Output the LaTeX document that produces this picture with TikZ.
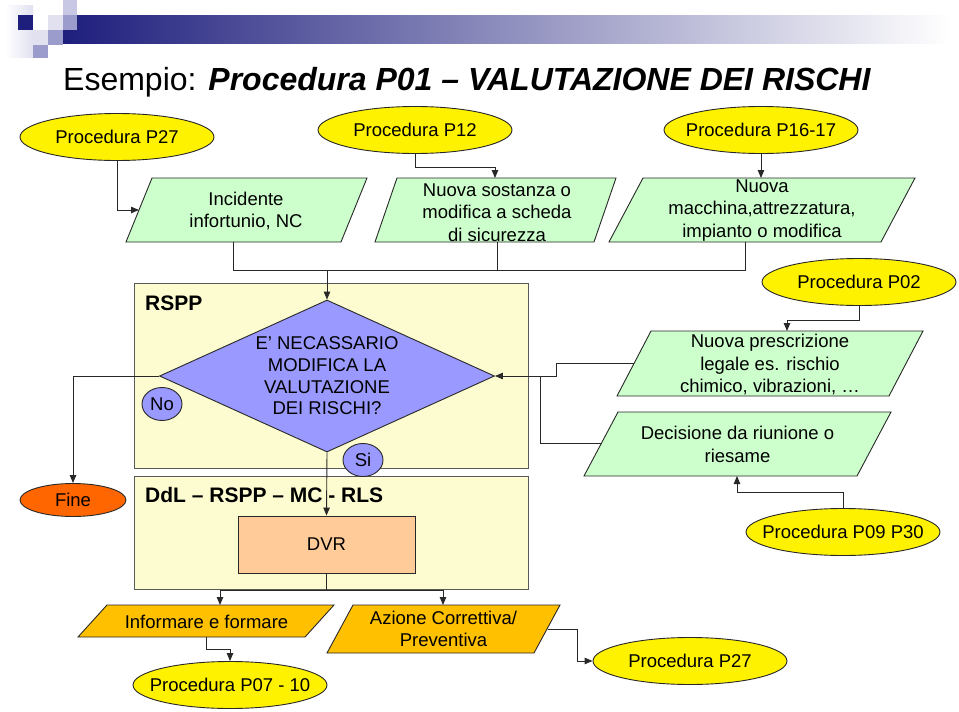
\documentclass[tikz,border=0pt]{standalone}
\usepackage{fontspec}
\setmainfont{Liberation Sans}
\usetikzlibrary{shapes.geometric,arrows.meta}
\definecolor{hdnavy}{RGB}{30,30,125}
\definecolor{sqa}{RGB}{225,225,240}
\definecolor{sqb}{RGB}{200,200,228}
\definecolor{sqc}{RGB}{156,156,204}
\definecolor{ygreen}{RGB}{204,255,204}
\definecolor{lanecol}{RGB}{253,252,208}
\definecolor{diacol}{RGB}{153,153,255}
\definecolor{fineor}{RGB}{255,102,0}
\definecolor{dvrc}{RGB}{255,204,153}
\definecolor{goldc}{RGB}{255,192,0}
\definecolor{edgec}{RGB}{40,40,40}
\newcommand{\pgm}[6]{\draw[#1] (#2,#4) -- (#3,#4) -- ({#3-#5},#6) -- ({#2-#5},#6) -- cycle;}
\newcommand{\zw}[1]{\makebox[0pt][c]{#1}}
\begin{document}
\begin{tikzpicture}[x=1pt,y=-1pt,
 txt/.style={font=\fontsize{18.5}{22.5}\selectfont, text=black, align=center, inner sep=0pt},
 ln/.style={draw=edgec, line width=0.9pt},
 arr/.style={ln, -{Triangle[length=8pt,width=6.5pt]}},
 yell/.style={txt, ellipse, draw=edgec, line width=0.9pt, fill=yellow, minimum width=194pt, minimum height=47pt},
 gpar/.style={draw=edgec, line width=0.9pt, fill=ygreen},
 opar/.style={draw=edgec, line width=0.9pt, fill=goldc},
 lanebox/.style={draw=black!65, line width=1.2pt, fill=lanecol, inner sep=0pt, anchor=north west},
 smallell/.style={txt, ellipse, draw=edgec, line width=0.9pt, fill=diacol, minimum width=40pt, minimum height=33pt},
 lbl/.style={font=\bfseries\fontsize{21}{25}\selectfont, anchor=west, inner sep=0pt},
]
\useasboundingbox[fill=white] (0,0) rectangle (959,712);

% header
\shade[left color=hdnavy, right color=white] (63,15) rectangle (950,43);
\shade[left color=white, right color=sqa] (5,5) rectangle (33,57);
\fill[hdnavy] (18,15) rectangle (33,30);
\fill[sqa] (48,15) rectangle (63,30);
\fill[sqb] (63,0) rectangle (77,15);
\fill[sqc] (63,15) rectangle (77,30);
\fill[sqa] (33,30) rectangle (48,45);
\fill[sqc] (48,30) rectangle (63,45);
\fill[sqc] (33,45) rectangle (48,58);

\node[anchor=base west, inner sep=0pt, font=\fontsize{32}{38}\selectfont] (title) at (63,90)
  {Esempio: \textbf{\textit{Procedura P01 – VALUTAZIONE DEI RISCHI}}};

% swimlanes
\node[lanebox, minimum width=394pt, minimum height=185pt] (lane1) at (134,283) {};
\node[lanebox, minimum width=394pt, minimum height=113pt] (lane2) at (134,476) {};
\node[lbl] (rsppl) at (145,303) {RSPP};
\node[lbl] (ddll) at (145,495) {DdL – RSPP – MC - RLS};

% ellipses
\node[yell] (p27a) at (117,137) {\zw{Procedura P27}};
\node[yell] (p12) at (415,130) {\zw{Procedura P12}};
\node[yell] (p1617) at (761,130) {\zw{Procedura P16-17}};
\node[yell] (p02) at (859,282) {\zw{Procedura P02}};
\node[yell] (p0930) at (843,532) {\zw{Procedura P09 P30}};
\node[yell] (p0710) at (230,685) {\zw{Procedura P07 - 10}};
\node[yell] (p27b) at (690,661) {\zw{Procedura P27}};

% parallelograms
\pgm{gpar}{152}{367}{178}{26}{242}
\node[txt] (inc) at (246,211) {Incidente\\infortunio, NC};
\pgm{gpar}{397}{616}{178}{22}{242}
\node[txt] (sost) at (497,212.5) {Nuova sostanza o\\modifica a scheda\\di sicurezza};
\pgm{gpar}{643}{915}{178}{34}{242}
\node[txt] (macc) at (762,210.5) {Nuova\\macchina,attrezzatura,\\impianto o modifica};
\pgm{gpar}{651}{923}{331}{34}{396}
\node[txt] (prescr) at (770,364.5) {Nuova prescrizione\\legale es. rischio\\chimico, vibrazioni, …};
\pgm{gpar}{618}{891}{412}{34}{476}
\node[txt] (decis) at (737.5,444.5) {Decisione da riunione o\\riesame};
\pgm{opar}{107}{334}{605}{29}{637}
\node[txt] (inf) at (206.5,622) {Informare e formare};
\pgm{opar}{353}{560}{605}{26}{653}
\node[txt] (azi) at (443.5,629) {Azione Correttiva/\\Preventiva};

% decision
\node[diamond, draw=edgec, line width=0.9pt, fill=diacol, minimum width=335pt, minimum height=152pt, inner sep=0pt] (dia) at (327,376) {};
\node[txt, font=\fontsize{18.5}{21.7}\selectfont] (diatxt) at (dia.center) {E’ NECASSARIO\\MODIFICA LA\\VALUTAZIONE\\DEI RISCHI?};
\node[smallell] (no) at (162,404) {\zw{No}};
\node[smallell] (si) at (363,460) {\zw{Si}};
\node[txt, ellipse, draw=edgec, line width=0.9pt, fill=fineor, minimum width=106pt, minimum height=33pt] (fine) at (73,500) {\zw{Fine}};
\node[txt, draw=edgec, line width=0.9pt, fill=dvrc, minimum width=177pt, minimum height=57pt] (dvr) at (326.5,544.5) {DVR};

% anchor points
\coordinate (incL) at (139,210);
\coordinate (incB) at (233,242);
\coordinate (sostT) at (495,178);
\coordinate (sostB) at (497,242);
\coordinate (maccT) at (761,178);
\coordinate (maccB) at (745,242);
\coordinate (bus) at (327,270);
\coordinate (prT) at (787,331);
\coordinate (prL) at (634,363);
\coordinate (deL) at (601,443);
\coordinate (deB) at (737,476);
\coordinate (infT) at (220,605);
\coordinate (aziT) at (443,605);
\coordinate (infB) at (206,637);
\coordinate (aziR) at (548,629);

% connectors
\draw[arr] (p27a.south) |- (incL);
\draw[arr] (p12.south) -- ++(0,13) -| (sostT);
\draw[arr] (p1617.south) -- (maccT);
\draw[ln] (incB) -- (incB|-bus) -- (maccB|-bus) -- (maccB);
\draw[ln] (sostB) -- (sostB|-bus);
\draw[arr] (bus) -- (dia.north);
\draw[arr] (dia.west) -| (fine.north);
\draw[arr] (dia.south) -- (dvr.north);
\draw[ln] (dvr.south) -- (dvr.south|-lane2.south);
\draw[ln] (infT|-lane2.south) -- (aziT|-lane2.south);
\draw[arr] (infT|-lane2.south) -- (infT);
\draw[arr] (aziT|-lane2.south) -- (aziT);
\draw[arr] (infB) -- ++(0,12) -| (p0710.north);
\draw[arr] (aziR) -| ++(29,32) -- (p27b.west);
\draw[arr] (p02.south) -- ++(0,14) -| (prT);
\draw[arr] (prL) -- ++(-78,0) |- (dia.east);
\draw[ln] (deL) -| ([xshift=45pt]dia.east);
\draw[arr] (p0930.north) -- ++(0,-16) -| (deB);
\end{tikzpicture}
\end{document}
